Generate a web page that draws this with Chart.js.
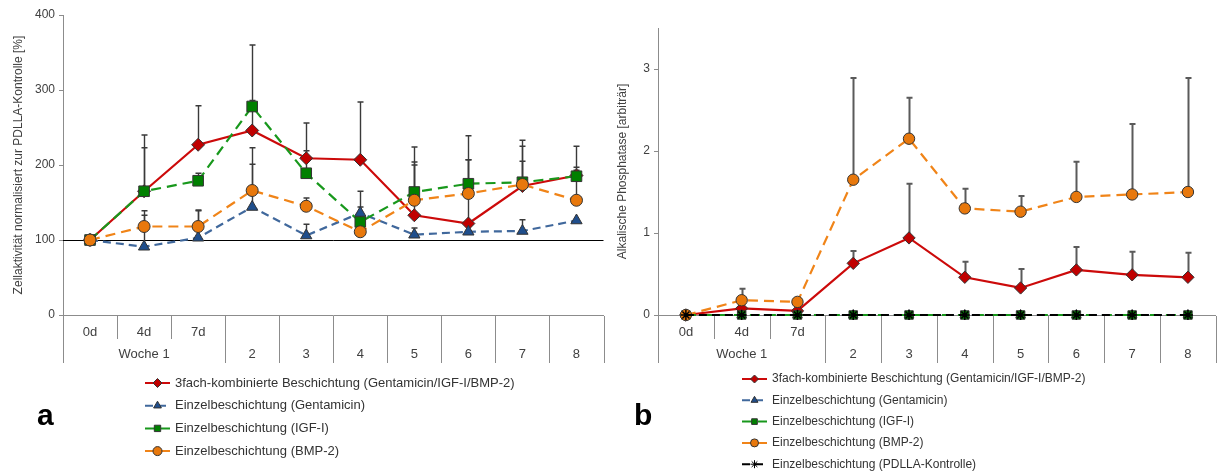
<!DOCTYPE html>
<html>
<head>
<meta charset="utf-8">
<script src="https://cdn.jsdelivr.net/npm/chart.js@4.4.1/dist/chart.umd.min.js"></script>
<style>
    html, body { margin: 0; padding: 0; background: #fff; }
    #wrap { position: relative; width: 1223px; height: 472px; }
    #chartA { position: absolute; left: 0; top: 0; }
    #chartB { position: absolute; left: 612px; top: 0; }
</style>
</head>
<body>
<div id="wrap">
    <canvas id="chartA" width="612" height="472"></canvas>
    <canvas id="chartB" width="611" height="472"></canvas>
</div>
<script>
// ---- categories (two-row axis) ----
const dayLabels  = ['0d', '4d', '7d', '', '', '', '', '', '', ''];
const weekLabels = ['', 'Woche 1', '', '2', '3', '4', '5', '6', '7', '8'];
const weekGroup  = [1, 1, 1, 2, 3, 4, 5, 6, 7, 8];

const seriesNames = [
    '3fach-kombinierte Beschichtung (Gentamicin/IGF-I/BMP-2)',
    'Einzelbeschichtung (Gentamicin)',
    'Einzelbeschichtung (IGF-I)',
    'Einzelbeschichtung (BMP-2)',
    'Einzelbeschichtung (PDLLA-Kontrolle)'
];

// ---- panel a: Zellaktivität ----
const yTitleA = 'Zellaktivität normalisiert zur PDLLA-Kontrolle [%]';
const yTicksA = [0, 100, 200, 300, 400];
const baselineA = 100;
const a3fach    = [100, 165, 227, 246, 209, 207, 133, 122, 172, 186];
const a3fachErr = [0, 75, 52, 40, 47, 77, 67, 85, 33, 11];
const aGenta    = [100, 91, 103, 144, 106, 136, 107, 111, 112, 126];
const aGentaErr = [0, 42, 37, 79, 15, 29, 9, 8, 15, 0];
const aIGF      = [100, 165, 179, 278, 189, 124, 164, 175, 177, 185];
const aIGFErr   = [0, 58, 10, 82, 30, 20, 60, 64, 56, 40];
const aBMP      = [100, 118, 118, 166, 145, 111, 153, 162, 174, 153];
const aBMPErr   = [0, 21, 21, 35, 11, 10, 51, 45, 51, 40];

// ---- panel b: Alkalische Phosphatase ----
const yTitleB = 'Alkalische Phosphatase [arbiträr]';
const yTicksB = [0, 1, 2, 3];
const b3fach    = [0, 0.08, 0.05, 0.63, 0.94, 0.46, 0.33, 0.55, 0.49, 0.46];
const b3fachErr = [0, 0, 0, 0.15, 0.66, 0.19, 0.23, 0.28, 0.28, 0.30];
const bGenta    = [0, 0, 0, 0, 0, 0, 0, 0, 0, 0];
const bIGF      = [0, 0, 0, 0, 0, 0, 0, 0, 0, 0];
const bBMP      = [0, 0.18, 0.16, 1.65, 2.15, 1.30, 1.26, 1.44, 1.47, 1.50];
const bBMPErr   = [0, 0.14, 0, 1.24, 0.50, 0.24, 0.19, 0.43, 0.86, 1.39];
const bPDLLA    = [0, 0, 0, 0, 0, 0, 0, 0, 0, 0];

const FONT = "'Liberation Sans', Arial, sans-serif";
Chart.defaults.font.family = FONT;
Chart.defaults.color = '#404040';

const xLabels = dayLabels.map((d, i) => [d, weekLabels[i]]);

// series looks
const styles = [
    { color: '#cc0a0a', fill: '#c00000', dash: [], point: 'rectRot', r: 6.5 },
    { color: '#40689c', fill: '#1f4e8c', dash: [8, 5], point: 'triangle', r: 6.5 },
    { color: '#18981c', fill: '#008000', dash: [10, 6], point: 'rect', r: 7.5 },
    { color: '#f08418', fill: '#e8780c', dash: [10, 6], point: 'circle', r: 6 },
    { color: '#000000', fill: '#000000', dash: [8, 5], point: 'star', r: 5 }
];

function makeDataset(i, data, errors, scaleR) {
    const s = styles[i];
    return {
        label: seriesNames[i],
        data: data,
        errors: errors,
        borderColor: s.color,
        borderWidth: 2.2,
        borderDash: s.dash,
        pointStyle: s.point,
        pointRadius: s.r * (scaleR || 1),
        pointBackgroundColor: s.fill,
        pointBorderColor: i === 4 ? '#000' : '#333',
        pointBorderWidth: i === 4 ? 1.5 : 1,
        tension: 0,
        fill: false,
        clip: false,
        order: 10 - i
    };
}

// error bars + reference line, behind the series
const errorBars = {
    id: 'errorBars',
    beforeDatasetsDraw(chart, args, opts) {
        const ctx = chart.ctx;
        const xs = chart.scales.x, ys = chart.scales.y, area = chart.chartArea;
        ctx.save();
        if (opts.baseline != null) {
            const py = Math.round(ys.getPixelForValue(opts.baseline)) + 0.5;
            ctx.strokeStyle = '#000';
            ctx.lineWidth = 1;
            ctx.beginPath();
            ctx.moveTo(area.left, py);
            ctx.lineTo(area.right, py);
            ctx.stroke();
        }
        ctx.strokeStyle = opts.color;
        ctx.lineWidth = opts.width;
        chart.data.datasets.forEach(ds => {
            if (!ds.errors) return;
            ds.errors.forEach((e, i) => {
                if (!e) return;
                const px = Math.round(xs.getPixelForValue(i)) + 0.5;
                const y0 = ys.getPixelForValue(ds.data[i]);
                const y1 = ys.getPixelForValue(ds.data[i] + e);
                ctx.beginPath();
                ctx.moveTo(px, y0);
                ctx.lineTo(px, y1);
                ctx.moveTo(px - 3, y1);
                ctx.lineTo(px + 3, y1);
                ctx.stroke();
            });
        });
        ctx.restore();
    }
};

// separators of the two-row category axis
const categoryGrid = {
    id: 'categoryGrid',
    afterDraw(chart, args, opts) {
        const xs = chart.scales.x, area = chart.chartArea, ctx = chart.ctx;
        const n = chart.data.labels.length;
        ctx.save();
        ctx.strokeStyle = opts.color;
        ctx.lineWidth = 1;
        for (let i = 0; i <= n; i++) {
            let px;
            if (i === 0) px = area.left;
            else if (i === n) px = area.right;
            else px = (xs.getPixelForValue(i - 1) + xs.getPixelForValue(i)) / 2;
            const inner = i > 0 && i < n && weekGroup[i - 1] === weekGroup[i];
            const len = inner ? opts.shortLen : opts.longLen;
            px = Math.round(px) + 0.5;
            ctx.beginPath();
            ctx.moveTo(px, area.bottom + 1);
            ctx.lineTo(px, area.bottom + len);
            ctx.stroke();
        }
        ctx.restore();
    }
};

// legend under the plot + panel letter
const bottomLegend = {
    id: 'bottomLegend',
    afterDraw(chart, args, opts) {
        const ctx = chart.ctx;
        ctx.save();
        chart.data.datasets.forEach((ds, i) => {
            const y = opts.y + i * opts.rowGap;
            const x0 = opts.x;
            ctx.strokeStyle = ds.borderColor;
            ctx.lineWidth = 2;
            ctx.setLineDash(ds.borderDash || []);
            ctx.beginPath();
            ctx.moveTo(x0, y);
            ctx.lineTo(x0 + opts.sample, y);
            ctx.stroke();
            ctx.setLineDash([]);
            ctx.fillStyle = ds.pointBackgroundColor;
            ctx.strokeStyle = ds.pointBorderColor;
            ctx.lineWidth = 1;
            Chart.helpers.drawPoint(ctx, {
                pointStyle: ds.pointStyle, radius: opts.markerR, rotation: 0, borderWidth: 1
            }, x0 + opts.sample / 2, y);
            ctx.fillStyle = '#333';
            ctx.font = opts.fontSize + 'px ' + FONT;
            ctx.textBaseline = 'middle';
            ctx.textAlign = 'left';
            ctx.fillText(ds.label, x0 + opts.sample + 5, y);
        });
        ctx.fillStyle = '#000';
        ctx.font = 'bold 30px ' + FONT;
        ctx.textBaseline = 'alphabetic';
        ctx.fillText(opts.letter, opts.letterX, opts.letterY);
        ctx.restore();
    }
};

function buildOptions(cfg) {
    return {
        responsive: false,
        animation: false,
        events: [],
        layout: { padding: cfg.padding },
        plugins: {
            legend: { display: false },
            tooltip: { enabled: false },
            errorBars: { color: cfg.errColor, width: cfg.errWidth, baseline: cfg.baseline },
            categoryGrid: { color: '#8c8c8c', shortLen: 24, longLen: 48 },
            bottomLegend: cfg.legend
        },
        scales: {
            x: {
                type: 'category',
                offset: true,
                afterFit: s => { s.height = 48; },
                grid: { display: false, drawTicks: false },
                border: { display: true, color: '#8c8c8c', width: 1 },
                ticks: {
                    autoSkip: false, maxRotation: 0, padding: 6,
                    font: { size: 13, lineHeight: 1.7 }, color: '#404040'
                }
            },
            y: {
                min: cfg.min, max: cfg.max,
                afterBuildTicks: s => { s.ticks = cfg.ticks.map(v => ({ value: v })); },
                afterFit: s => { s.width = cfg.axisWidth; },
                grid: { drawOnChartArea: false, tickLength: 4, color: '#8c8c8c' },
                border: { color: '#8c8c8c', width: 1 },
                ticks: { padding: 4, font: { size: 12 }, color: '#404040' },
                title: {
                    display: true, text: cfg.title, color: '#404040',
                    font: { size: 12 }, padding: { top: cfg.titlePad, bottom: 0 }
                }
            }
        }
    };
}

new Chart(document.getElementById('chartA'), {
    type: 'line',
    data: {
        labels: xLabels,
        datasets: [
            makeDataset(0, a3fach, a3fachErr),
            makeDataset(1, aGenta, aGentaErr),
            makeDataset(2, aIGF, aIGFErr),
            makeDataset(3, aBMP, aBMPErr)
        ]
    },
    options: buildOptions({
        padding: { left: 0, right: 6, top: 15, bottom: 109 },
        min: 0, max: 400, ticks: yTicksA, axisWidth: 63,
        title: yTitleA, titlePad: 11,
        baseline: baselineA, errColor: '#3a3a3a', errWidth: 1.4,
        legend: { x: 145, y: 383, rowGap: 22.7, sample: 25, markerR: 4.5, fontSize: 13,
                  letter: 'a', letterX: 37, letterY: 425 }
    }),
    plugins: [errorBars, categoryGrid, bottomLegend]
});

new Chart(document.getElementById('chartB'), {
    type: 'line',
    data: {
        labels: xLabels,
        datasets: [
            makeDataset(0, b3fach, b3fachErr, 0.95),
            makeDataset(1, bGenta, null, 0.85),
            makeDataset(2, bIGF, null, 0.8),
            makeDataset(3, bBMP, bBMPErr, 0.95),
            makeDataset(4, bPDLLA, null, 1)
        ]
    },
    options: buildOptions({
        padding: { left: 0, right: 3, top: 28, bottom: 109 },
        min: 0, max: 3.5, ticks: yTicksB, axisWidth: 46,
        title: yTitleB, titlePad: 3,
        baseline: null, errColor: '#5a5a5a', errWidth: 2,
        legend: { x: 130, y: 379, rowGap: 21.3, sample: 25, markerR: 4, fontSize: 12,
                  letter: 'b', letterX: 22, letterY: 425 }
    }),
    plugins: [errorBars, categoryGrid, bottomLegend]
});
</script>
</body>
</html>
